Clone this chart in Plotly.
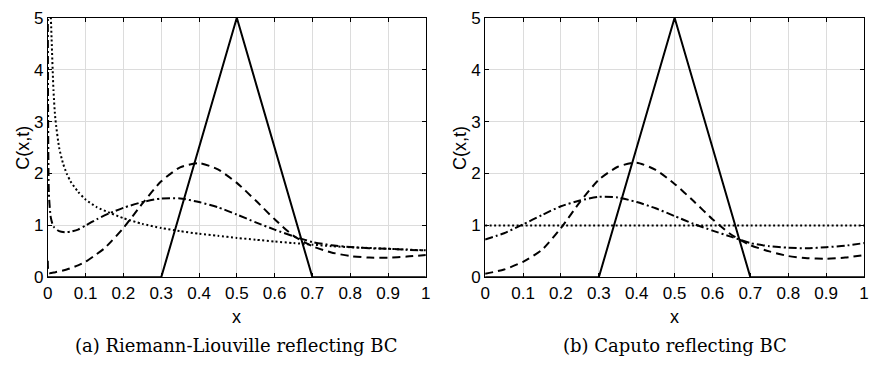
import plotly.graph_objects as go

# ---- data ----
x_init = [0.0, 0.3, 0.5, 0.7, 1.0]
c_init = [0.0, 0.0, 5.0, 0.0, 0.0]

# (a) Riemann-Liouville reflecting BC
xa_dash = [0.0, 0.003, 0.02, 0.05, 0.08, 0.1, 0.12, 0.15, 0.2, 0.25, 0.3, 0.35, 0.4, 0.45, 0.5,
           0.55, 0.6, 0.65, 0.7, 0.75, 0.8, 0.85, 0.9, 0.95, 1.0]
ca_dash = [0.32, 0.08, 0.1, 0.15, 0.23, 0.3, 0.4, 0.56, 0.95, 1.42, 1.85, 2.12, 2.2, 2.08, 1.82,
           1.48, 1.12, 0.8, 0.6, 0.48, 0.41, 0.38, 0.38, 0.4, 0.43]

xa_dashdot = [0.0, 0.003, 0.008, 0.015, 0.03, 0.045, 0.06, 0.08, 0.1, 0.13, 0.165, 0.2, 0.25, 0.3,
              0.35, 0.4, 0.45, 0.5, 0.55, 0.6, 0.65, 0.7, 0.75, 0.8, 0.85, 0.9, 0.95, 1.0]
ca_dashdot = [5.5, 1.6, 1.15, 0.98, 0.89, 0.87, 0.88, 0.92, 1.0, 1.12, 1.24, 1.34, 1.45, 1.52,
              1.52, 1.45, 1.35, 1.21, 1.06, 0.92, 0.79, 0.68, 0.62, 0.585, 0.56, 0.55, 0.53, 0.52]

xa_dot = [0.0, 0.006, 0.01, 0.015, 0.02, 0.03, 0.04, 0.05, 0.06, 0.08, 0.1, 0.13, 0.165, 0.2, 0.25,
          0.3, 0.35, 0.4, 0.45, 0.5, 0.55, 0.6, 0.65, 0.7, 0.75, 0.8, 0.85, 0.9, 0.95, 1.0]
ca_dot = [9.0, 5.5, 4.6, 3.6, 3.05, 2.5, 2.2, 2.0, 1.85, 1.65, 1.5, 1.35, 1.24, 1.14, 1.03,
          0.95, 0.89, 0.84, 0.8, 0.76, 0.725, 0.69, 0.66, 0.63, 0.6, 0.58, 0.565, 0.55, 0.535, 0.52]

# (b) Caputo reflecting BC
xb = [0.0, 0.05, 0.1, 0.15, 0.2, 0.25, 0.3, 0.35, 0.4, 0.45, 0.5,
      0.55, 0.6, 0.65, 0.7, 0.75, 0.8, 0.85, 0.9, 0.95, 1.0]
cb_dash = [0.07, 0.15, 0.3, 0.53, 0.95, 1.45, 1.88, 2.13, 2.21, 2.07, 1.8,
           1.47, 1.12, 0.82, 0.62, 0.5, 0.41, 0.37, 0.36, 0.38, 0.43]
cb_dashdot = [0.73, 0.85, 1.02, 1.2, 1.37, 1.48, 1.55, 1.54, 1.45, 1.33, 1.18,
              1.03, 0.9, 0.78, 0.66, 0.6, 0.57, 0.56, 0.58, 0.61, 0.66]
xb_dot = [0.0, 1.0]
cb_dot = [1.0, 1.0]

x_ticks = [0, 0.1, 0.2, 0.3, 0.4, 0.5, 0.6, 0.7, 0.8, 0.9, 1]
x_ticklabels = ["0", "0.1", "0.2", "0.3", "0.4", "0.5", "0.6", "0.7", "0.8", "0.9", "1"]
y_ticks = [0, 1, 2, 3, 4, 5]
captions = ["(a) Riemann-Liouville reflecting BC", "(b) Caputo reflecting BC"]

# ---- figure ----
W, H = 874, 374
LW = 2.0
DASH = "8px,5px"
DASHDOT = "8px,3px,2px,3px"
DOT = "2px,2.5px"

fig = go.Figure()


def add(x, y, dash, ax, shape="linear"):
    fig.add_trace(go.Scatter(
        x=x, y=y, mode="lines", xaxis="x" + ax, yaxis="y" + ax,
        line=dict(color="black", width=LW, dash=dash, shape=shape, smoothing=0.6),
        showlegend=False, hoverinfo="skip"))


# panel a
add(xa_dot, ca_dot, DOT, "", "spline")
add(xa_dashdot, ca_dashdot, DASHDOT, "", "spline")
add(xa_dash, ca_dash, DASH, "", "spline")
add(x_init, c_init, "solid", "")
# panel b
add(xb_dot, cb_dot, DOT, "2")
add(xb, cb_dashdot, DASHDOT, "2", "spline")
add(xb, cb_dash, DASH, "2", "spline")
add(x_init, c_init, "solid", "2")

SANS = "Liberation Sans, Arial, Helvetica, sans-serif"
font_tick = dict(family=SANS, size=17, color="black")


def xax(domain, anchor):
    return dict(domain=domain, anchor=anchor, range=[0, 1], tickvals=x_ticks,
                ticktext=x_ticklabels, showgrid=True, gridcolor="#dcdcdc", gridwidth=1,
                zeroline=False, showline=True, linecolor="black", linewidth=1,
                mirror="allticks", ticks="inside", ticklen=4, tickcolor="black",
                tickfont=font_tick, fixedrange=True)


def yax(domain, anchor):
    return dict(domain=domain, anchor=anchor, range=[0, 5], tickvals=y_ticks,
                showgrid=True, gridcolor="#dcdcdc", gridwidth=1,
                zeroline=False, showline=True, linecolor="black", linewidth=1,
                mirror="allticks", ticks="inside", ticklen=4, tickcolor="black",
                tickfont=font_tick, fixedrange=True)


ydom = [1 - 282.7 / H, 1 - 9.3 / H]
xa_dom = [43.3 / W, 425.7 / W]
xb_dom = [485.7 / W, 869.0 / W]

annotations = []
for dom, cap in zip([xa_dom, xb_dom], captions):
    cx = (dom[0] + dom[1]) / 2
    annotations.append(dict(text="x", x=cx, y=1 - 325 / H, xref="paper", yref="paper",
                            showarrow=False, xanchor="center", yanchor="middle",
                            font=dict(family=SANS, size=18, color="black")))
    annotations.append(dict(text="C(x,t)", x=(dom[0] * W - 26) / W, y=(ydom[0] + ydom[1]) / 2,
                            xref="paper", yref="paper", showarrow=False, textangle=-90,
                            xanchor="center", yanchor="middle",
                            font=dict(family=SANS, size=18, color="black")))
    annotations.append(dict(text=cap, x=cx, y=1 - 355 / H, xref="paper", yref="paper",
                            showarrow=False, xanchor="center", yanchor="middle",
                            font=dict(family="DejaVu Serif, serif", size=18, color="black")))

fig.update_layout(
    width=W, height=H, margin=dict(l=0, r=0, t=0, b=0),
    paper_bgcolor="white", plot_bgcolor="white",
    xaxis=xax(xa_dom, "y"), yaxis=yax(ydom, "x"),
    xaxis2=xax(xb_dom, "y2"), yaxis2=yax(ydom, "x2"),
    annotations=annotations,
)

fig.write_html("out.html", config={"displayModeBar": False})
